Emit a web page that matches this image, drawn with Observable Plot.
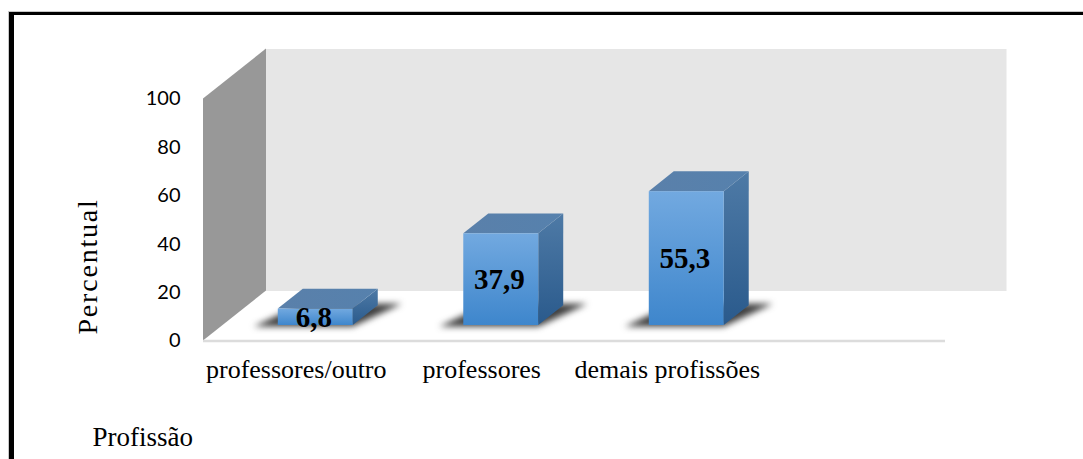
<!DOCTYPE html>
<html>
<head>
<meta charset="utf-8">
<script src="https://cdn.jsdelivr.net/npm/d3@7"></script>
<script src="https://cdn.jsdelivr.net/npm/@observablehq/plot@0.6"></script>
<style>
  html, body { margin: 0; padding: 0; background: #fff; overflow: hidden; }
  #wrap { position: relative; width: 1083px; height: 459px; }
  #border { position: absolute; left: 9px; top: 12px; width: 1200px; height: 600px;
            border-left: 5px solid #000; border-top: 3px solid #000;
            box-shadow: -1px -1px 0 #c8c8c8; }
  #chart { position: absolute; left: 0; top: 0; }
</style>
</head>
<body>
<div id="wrap">
  <div id="border"></div>
  <div id="chart"></div>
</div>
<script>
// ---- data ----
const categories = ["professores/outro", "professores", "demais profissões"];
const values = [6.8, 37.9, 55.3];
const valueLabels = ["6,8", "37,9", "55,3"];
const yTicks = [0, 20, 40, 60, 80, 100];
const yLabel = "Percentual";
const xLabel = "Profissão";

// ---- layout ----
const W = 1083, H = 459;
const mL = 203, mR = 138, mT = 98.5, mB = 118.5;
const slots = 4;                       // Excel category slots (one left empty)
const pxX = (W - mL - mR) / slots;     // px per x unit
const pxY = (H - mT - mB) / 100;       // px per y unit
// wall depth (px)
const wallPX = 63, wallPY = 50;
// bar front-plane offset (px) and bar depth (px)
const barOX = 19.5, barOY = -15.5;
const barPX = 25, barPY = 19.8;
const barHalf = 0.202;
const shadowPX = 24;

const rows = categories.map((c, i) => ({cat: c, v: values[i], label: valueLabels[i], xc: i + 0.5}));

const bDX = barPX / pxX, bDY = barPY / pxY;
const wDX = wallPX / pxX, wDY = wallPY / pxY;
const sh = shadowPX / pxX;

const topPts = rows.flatMap(d => [
  {cat: d.cat, y: d.v, xa: d.xc - barHalf, xb: d.xc + barHalf},
  {cat: d.cat, y: d.v + bDY, xa: d.xc - barHalf + bDX, xb: d.xc + barHalf + bDX}
]);
const sidePts = rows.flatMap(d => [
  {cat: d.cat, x: d.xc + barHalf, ya: 0, yb: d.v},
  {cat: d.cat, x: d.xc + barHalf + bDX, ya: bDY, yb: d.v + bDY}
]);
const shadowPts = rows.flatMap(d => [
  {cat: d.cat, y: -0.6, xa: d.xc - barHalf - sh, xb: d.xc + barHalf},
  {cat: d.cat, y: bDY + 0.6, xa: d.xc - barHalf + bDX, xb: d.xc + barHalf + bDX + sh}
]);
const yDom = [yTicks[0], yTicks[yTicks.length - 1]];
const sideWall = [
  {x: 0, y1: yDom[0], y2: yDom[1]},
  {x: wDX, y1: yDom[0] + wDY, y2: yDom[1] + wDY}
];
// y-axis title centre (in data units of the front plane)
const yLabelAt = 30.8;

const plot = Plot.plot({
  width: W, height: H,
  marginLeft: mL, marginRight: mR, marginTop: mT, marginBottom: mB,
  style: {color: "#000", background: "transparent", overflow: "visible"},
  x: {type: "linear", domain: [0, slots]},
  y: {type: "linear", domain: yDom},
  marks: [
    Plot.frame({fill: "#e6e6e6", dx: wallPX - 2, dy: -wallPY}),
    Plot.areaY(sideWall, {x: "x", y1: "y1", y2: "y2", fill: "#989898"}),
    Plot.ruleY([0], {stroke: "#dcdcdc", strokeWidth: 2.5}),
    Plot.areaX(shadowPts, {y: "y", x1: "xa", x2: "xb", z: "cat", fill: "#2a2a2a", fillOpacity: 0.9,
      dx: barOX, dy: barOY, imageFilter: "blur(3px)"}),
    Plot.areaY(sidePts, {x: "x", y1: "ya", y2: "yb", z: "cat", fill: "url(#gSide)", dx: barOX, dy: barOY}),
    Plot.areaX(topPts, {y: "y", x1: "xa", x2: "xb", z: "cat", fill: "url(#gTop)", dx: barOX, dy: barOY}),
    Plot.rect(rows, {x1: d => d.xc - barHalf, x2: d => d.xc + barHalf, y1: 0, y2: "v",
      fill: "url(#gFront)", dx: barOX, dy: barOY}),
    Plot.text(rows, {x: "xc", y: d => d.v / 2, text: "label", dx: barOX - 2, dy: barOY,
      fontWeight: "bold", fontSize: 29, fontFamily: "Liberation Serif", fill: "#000"}),
    Plot.axisY({ticks: yTicks, tickSize: 0, tickPadding: 23, label: null,
      fontSize: 20, fontFamily: "Lato"}),
    Plot.axisX({ticks: rows.map(d => d.xc), tickFormat: (t) => categories[Math.round(t - 0.5)],
      tickSize: 0, tickPadding: 19, label: null, fontSize: 26, fontFamily: "Liberation Serif"}),
    Plot.text([yLabel], {x: () => 0, y: () => yLabelAt, rotate: -90, dx: -115, text: d => d,
      fontSize: 28, fontFamily: "Liberation Serif", lineAnchor: "middle", fill: "#000"}),
    Plot.text([xLabel], {frameAnchor: "bottom-left", dx: 92 - mL, dy: 96, text: d => d, textAnchor: "start",
      lineAnchor: "middle", fontSize: 27, fontFamily: "Liberation Serif", fill: "#000"})
  ]
});

const svg = d3.select(plot);
svg.insert("defs", ":first-child").html(`
  <linearGradient id="gFront" x1="0" y1="0" x2="0" y2="1">
    <stop offset="0" stop-color="#72a9e0"/><stop offset="1" stop-color="#3e86cc"/>
  </linearGradient>
  <linearGradient id="gSide" x1="0" y1="0" x2="0" y2="1">
    <stop offset="0" stop-color="#4e7aa6"/><stop offset="1" stop-color="#2a5a8c"/>
  </linearGradient>
  <linearGradient id="gTop" x1="0" y1="0" x2="1" y2="0">
    <stop offset="0" stop-color="#5a80aa"/><stop offset="1" stop-color="#5681ad"/>
  </linearGradient>`);
svg.selectAll("text").filter(function () { return this.textContent === yLabel; })
  .style("letter-spacing", "1.8px");
document.getElementById("chart").appendChild(plot);
</script>
</body>
</html>
